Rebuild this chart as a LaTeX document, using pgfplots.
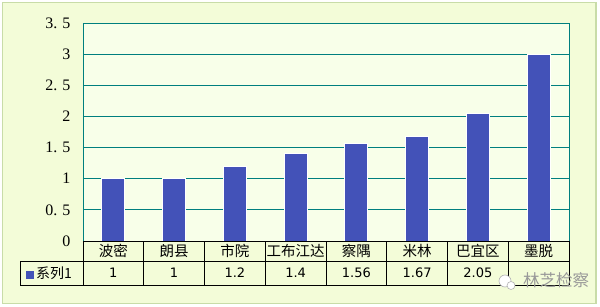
\documentclass[border=0pt]{standalone}
\usepackage{pgfplots}
\pgfplotsset{compat=1.18}
\usepackage{fontspec}
\setmainfont{Liberation Serif}
\newfontfamily\cjk{Noto Sans CJK SC}
\newfontfamily\numf{DejaVu Sans}
\definecolor{outerbg}{HTML}{F3FCD8}
\definecolor{plotbg}{HTML}{F8FFE9}
\definecolor{frameclr}{HTML}{C8DCA8}
\definecolor{barblue}{HTML}{4352B8}
\definecolor{gridteal}{HTML}{007F7F}
\newcommand{\gp}{\hspace{5pt}}
\begin{document}
\begin{tikzpicture}[x=1pt,y=1pt]
\useasboundingbox (0,0) rectangle (600,306);
\fill[outerbg, draw=frameclr, line width=1.2pt] (2.5,2.5) rectangle (596,303.5);
\fill[plotbg] (83,65) rectangle (569,283);
\begin{axis}[
  name=ax, at={(83pt,65pt)}, anchor=south west,
  scale only axis, width=486pt, height=218pt,
  xmin=0.5, xmax=8.5, ymin=0, ymax=3.5,
  ytick={0,0.5,1,1.5,2,2.5,3,3.5},
  yticklabels={0,0.\gp5,1,1.\gp5,2,2.\gp5,3,3.\gp5},
  xtick={1,2,3,4,5,6,7,8},
  xticklabels={波密,朗县,市院,工布江达,察隅,米林,巴宜区,墨脱},
  major tick length=0pt,
  ymajorgrids, grid style={gridteal, line width=0.9pt},
  axis line style={gridteal, line width=0.9pt},
  yticklabel style={font=\fontsize{16}{16}\selectfont, xshift=-9pt},
  xticklabel style={font=\cjk\fontsize{14.5}{14.5}\selectfont, anchor=center, yshift=-10pt},
  clip=false,
]
\addplot[ybar, bar width=23pt, fill=barblue, draw=white, line width=1pt]
  coordinates {(1,1) (2,1) (3,1.2) (4,1.4) (5,1.56) (6,1.67) (7,2.05) (8,3)};
\begin{scope}[every node/.style={font=\numf\fontsize{13}{13}\selectfont, anchor=center, yshift=-32pt}]
\node at (axis cs:1,0) {1};
\node at (axis cs:2,0) {1};
\node at (axis cs:3,0) {1.2};
\node at (axis cs:4,0) {1.4};
\node at (axis cs:5,0) {1.56};
\node at (axis cs:6,0) {1.67};
\node at (axis cs:7,0) {2.05};
\end{scope}
\end{axis}
\draw[black, line width=1pt] (83,65) -- (569,65);
\draw[black, line width=1pt] (20,45) -- (569,45);
\draw[black, line width=1pt] (20,21) -- (569,21);
\draw[black, line width=1pt] (20,21) -- (20,45);
\foreach \k in {0,...,8} \draw[black, line width=1pt] ({83+\k*60.75},21) -- ({83+\k*60.75},65);
\fill[barblue] (26,27) rectangle (33.5,35);
\node[anchor=west, font=\cjk\fontsize{14}{14}\selectfont, inner sep=0pt] at (36,33) {系列1};
\fill[white] (505,25) circle (6);
\draw[gray!60, line width=0.6pt] (505,25) circle (6);
\fill[white] (511,20.5) circle (4);
\draw[gray!60, line width=0.6pt] (511,20.5) circle (4);
\node[text=gray!80, font=\cjk\fontsize{16.5}{16.5}\selectfont, inner sep=0pt] at (556,25.5) {林芝检察};
\end{tikzpicture}
\end{document}
